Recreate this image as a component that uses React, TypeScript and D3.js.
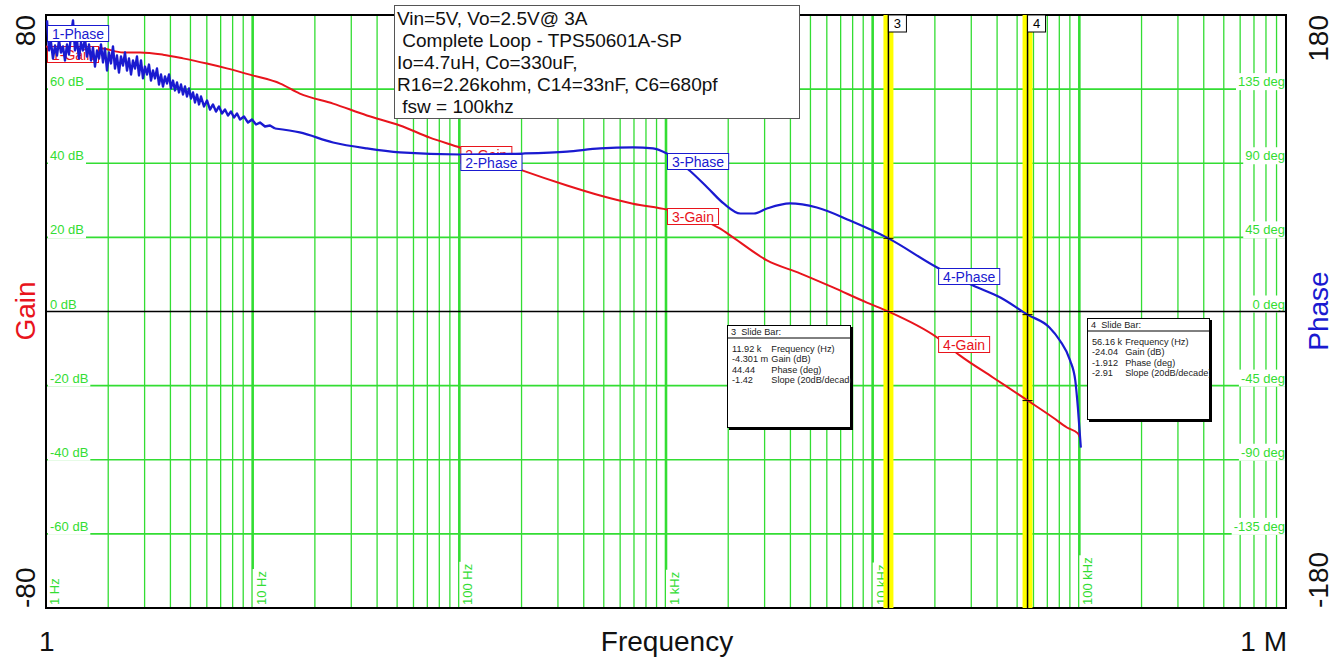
//@ts-nocheck
import React, {useEffect, useRef} from 'react';
import * as d3 from 'd3';

// gain trace (Hz, dB)
const gainFreq = [1, 1.31, 1.83, 2.36, 2.85, 3.68, 4.6, 6.0, 7.5, 10, 13.6, 16.9, 24.5, 35.7, 51.6, 72, 101, 141, 203, 332, 480, 692, 1010, 1380, 1820, 2110, 3080, 4450, 6430, 9380, 11920, 20500, 26500, 38200, 56160, 74500, 87100, 98400, 100700];
const gainDb = [71.5, 70.8, 71.0, 69.9, 69.9, 69.3, 68.3, 66.9, 65.6, 63.7, 61.5, 58.8, 56.1, 52.9, 50.2, 46.9, 44.2, 41.3, 38.0, 34.0, 31.3, 29.1, 27.5, 25.6, 22.4, 20.0, 13.8, 10.3, 6.5, 2.4, 0.0, -7.0, -11.9, -17.8, -24.0, -28.6, -31.3, -32.9, -34.0];

// phase trace (Hz, deg) - noisy below ~13 Hz
const phaseFreq = [
    1.011, 1.034, 1.057, 1.081, 1.106, 1.130, 1.156, 1.182, 1.208, 1.236, 1.264, 1.292, 1.321, 1.351,
    1.381, 1.413, 1.444, 1.477, 1.510, 1.544, 1.579, 1.615, 1.651, 1.688, 1.726, 1.765, 1.805, 1.845,
    1.887, 1.929, 1.973, 2.017, 2.063, 2.109, 2.157, 2.205, 2.255, 2.306, 2.358, 2.411, 2.466, 2.521,
    2.578, 2.636, 2.696, 2.756, 2.818, 2.882, 2.946, 3.013, 3.081, 3.150, 3.221, 3.294, 3.368, 3.444,
    3.522, 3.601, 3.682, 3.765, 3.850, 3.937, 4.026, 4.116, 4.209, 4.304, 4.401, 4.500, 4.602, 4.705,
    4.811, 4.920, 5.031, 5.144, 5.260, 5.378, 5.500, 5.623, 5.814, 6.012, 6.217, 6.427, 6.646, 6.872,
    7.105, 7.347, 7.597, 7.856, 8.123, 8.399, 8.684, 9.078, 9.493, 9.926, 10.38, 10.85, 11.47, 12.13, 12.83,
    16.9, 24.5, 35.7, 51.6, 101, 203, 332, 480, 692, 865, 1010, 1300, 1585, 1900, 2290, 2660, 3080,
    3980, 5370, 7760, 11920, 20500, 30600, 41500, 56160, 71700, 80500, 90200, 95600, 98400, 101700];
const phaseDeg = [
    176.7, 158.5, 163.3, 153.6, 161.5, 155.4, 164.5, 157.2, 160.9, 152.4, 162.1, 156.0, 167.6, 176.7,
    158.5, 164.5, 153.6, 163.3, 158.5, 165.7, 154.8, 162.1, 152.4, 160.3, 148.7, 158.5, 153.6, 162.1,
    151.2, 159.7, 146.3, 157.2, 150.6, 160.9, 147.5, 155.4, 145.1, 154.8, 149.3, 157.2, 146.3, 153.6,
    143.9, 152.4, 147.5, 154.8, 143.3, 152.4, 141.5, 148.7, 143.9, 149.9, 140.2, 146.3, 141.5, 147.5,
    137.8, 143.9, 136.6, 142.7, 138.4, 143.9, 135.4, 140.2, 134.2, 139.0, 133.0, 137.8, 131.7, 136.6,
    130.5, 135.4, 129.3, 133.0, 126.9, 131.7, 125.7, 130.5, 124.5, 128.1, 122.6, 125.7, 121.4, 124.5,
    120.2, 122.6, 119.0, 121.4, 117.8, 120.2, 116.6, 118.4, 114.7, 116.6, 113.5, 114.7, 112.3, 112.9, 111.1,
    108.7, 102.6, 99.0, 96.6, 95.3, 95.9, 97.1, 99.0, 99.6, 99.0, 95.9, 85.6, 75.3, 65.6, 59.5, 59.5, 62.5,
    65.6, 63.1, 55.2, 44.4, 26.7, 15.8, 8.5, -1.9, -9.7, -17.6, -29.7, -41.9, -58.3, -82.6];
const phaseNoiseEnd = 12.83;

const gainTicks = [60, 40, 20, 0, -20, -40, -60];
const phaseTicks = [135, 90, 45, 0, -45, -90, -135];
const decadeFreq = [1, 10, 100, 1e3, 1e4, 1e5];
const decadeLabels = ['1 Hz', '10 Hz', '100 Hz', '1 kHz', '10 kHz', '100 kHz'];
const traceLabelFreq = [1, 100, 1000, 20500];

const infoLines = [
    'Vin=5V, Vo=2.5V@ 3A',
    ' Complete Loop - TPS50601A-SP',
    'Io=4.7uH, Co=330uF,',
    'R16=2.26kohm, C14=33nF, C6=680pf',
    ' fsw = 100khz'
];

const slideBars = [
    {id: '3', freq: 11920, gain: -0.004301, phase: 44.44,
        rows: [['11.92 k', 'Frequency (Hz)'], ['-4.301 m', 'Gain (dB)'], ['44.44', 'Phase (deg)'], ['-1.42', 'Slope (20dB/decade)']]},
    {id: '4', freq: 56160, gain: -24.04, phase: -1.912,
        rows: [['56.16 k', 'Frequency (Hz)'], ['-24.04', 'Gain (dB)'], ['-1.912', 'Phase (deg)'], ['-2.91', 'Slope (20dB/decade)']]}
];
const slideBoxes = [{x: 727, y: 325, w: 124, h: 103}, {x: 1087, y: 318, w: 123, h: 102}];

const App = () => {
    const svgRef = useRef(null);

    useEffect(() => {
        const svg = d3.select(svgRef.current);
        svg.selectAll('*').remove();

        const left = 46, right = 1286, top = 15, bottom = 608;
        const font = 'Liberation Sans, Arial, sans-serif';
        const green = '#33dd33';
        const red = '#e8141c';
        const blue = '#1a1ad0';

        const x = d3.scaleLog().domain([1, 1e6]).range([left, right]);
        const yG = d3.scaleLinear().domain([-80, 80]).range([bottom, top]);
        const yP = d3.scaleLinear().domain([-180, 180]).range([bottom, top]);

        const valAt = (freqs, vals, f) => d3.scaleLinear()
            .domain(freqs.map(Math.log10)).range(vals)(Math.log10(f));

        svg.append('rect').attr('width', 1338).attr('height', 660).attr('fill', '#fff');

        // vertical grid
        const grid = svg.append('g');
        for (let d = 0; d < 6; d++) {
            for (let k = 1; k <= 9; k++) {
                if (d === 0 && k === 1) continue;
                const gx = x(k * Math.pow(10, d));
                grid.append('line')
                    .attr('x1', gx).attr('x2', gx).attr('y1', top).attr('y2', bottom)
                    .attr('stroke', green).attr('stroke-width', k === 1 ? 2.6 : 1.3);
            }
        }
        // horizontal grid
        gainTicks.forEach(t => {
            if (t === 0) return;
            grid.append('line')
                .attr('x1', left).attr('x2', right).attr('y1', yG(t)).attr('y2', yG(t))
                .attr('stroke', green).attr('stroke-width', 1.6);
        });

        const boxedText = (g, txt, tx, ty, anchor) => {
            const t = g.append('text').attr('x', tx).attr('y', ty)
                .attr('text-anchor', anchor).attr('font-family', font)
                .attr('font-size', 13).attr('fill', green).text(txt);
            const bb = t.node().getBBox();
            g.insert('rect', 'text').attr('x', bb.x - 2).attr('y', bb.y - 1)
                .attr('width', bb.width + 4).attr('height', bb.height + 2).attr('fill', '#fff');
        };

        // left dB labels & right deg labels
        gainTicks.forEach((t, i) => {
            const gy = yG(t);
            boxedText(svg.append('g'), t + ' dB', 50, gy - 3, 'start');
            boxedText(svg.append('g'), phaseTicks[i] + ' deg', right - 1, gy - 3, 'end');
        });

        // decade labels at bottom
        decadeFreq.forEach((f, i) => {
            const g = svg.append('g').attr('transform', `translate(${x(f) + 2},${bottom - 3}) rotate(-90)`);
            boxedText(g, decadeLabels[i], 0, 11, 'start');
        });

        // zero line and border
        svg.append('line').attr('x1', left).attr('x2', right).attr('y1', yG(0)).attr('y2', yG(0))
            .attr('stroke', '#000').attr('stroke-width', 1.3);
        svg.append('rect').attr('x', left).attr('y', top).attr('width', right - left).attr('height', bottom - top)
            .attr('fill', 'none').attr('stroke', '#000').attr('stroke-width', 2);

        // slide bars
        slideBars.forEach(b => {
            const bx = x(b.freq);
            svg.append('rect').attr('x', bx - 5).attr('y', top).attr('width', 10).attr('height', bottom - top)
                .attr('fill', '#ffff00');
            svg.append('line').attr('x1', bx).attr('x2', bx).attr('y1', top).attr('y2', bottom)
                .attr('stroke', '#000').attr('stroke-width', 1.5);
        });

        const smooth = d3.line().x(d => x(d[0])).y(d => d[1]).curve(d3.curveMonotoneX);
        const jagged = d3.line().x(d => x(d[0])).y(d => d[1]);

        const traceLabel = (txt, lx, ly, color) => {
            const g = svg.append('g');
            const t = g.append('text').attr('x', lx + 5).attr('y', ly + 13.5)
                .attr('font-family', font).attr('font-size', 14).attr('fill', color).text(txt);
            const w = t.node().getComputedTextLength();
            g.insert('rect', 'text').attr('x', lx + 0.5).attr('y', ly + 0.5).attr('width', w + 9).attr('height', 16)
                .attr('fill', '#fff').attr('stroke', color).attr('stroke-width', 1);
        };

        // gain trace + labels
        svg.append('path')
            .attr('d', smooth(gainFreq.map((f, i) => [f, yG(gainDb[i])])))
            .attr('fill', 'none').attr('stroke', red).attr('stroke-width', 2);
        traceLabelFreq.forEach((f, i) => {
            traceLabel(`${i + 1}-Gain`, x(f) + 1, Math.round(yG(valAt(gainFreq, gainDb, f))) - 1, red);
        });

        // phase trace: jagged noisy low end, smooth remainder
        const phasePts = phaseFreq.map((f, i) => [f, yP(phaseDeg[i])]);
        const noisy = phasePts.filter(p => p[0] <= phaseNoiseEnd);
        const clean = phasePts.filter(p => p[0] >= phaseNoiseEnd);
        svg.append('path').attr('d', jagged(noisy))
            .attr('fill', 'none').attr('stroke', blue).attr('stroke-width', 2.4)
            .attr('stroke-linejoin', 'round');
        svg.append('path').attr('d', smooth(clean))
            .attr('fill', 'none').attr('stroke', blue).attr('stroke-width', 2.2);
        traceLabelFreq.forEach((f, i) => {
            const py = i === 0 ? yP(174) : yP(valAt(phaseFreq, phaseDeg, f));
            traceLabel(`${i + 1}-Phase`, x(f) + 1, Math.round(py), blue);
        });

        // bar markers, bar id boxes, readout boxes
        slideBars.forEach((b, bi) => {
            const bx = x(b.freq);
            [yG(b.gain), yP(b.phase)].forEach(my => {
                svg.append('line').attr('x1', bx - 5).attr('x2', bx + 5).attr('y1', my).attr('y2', my)
                    .attr('stroke', '#000').attr('stroke-width', 1);
            });
            svg.append('rect').attr('x', bx).attr('y', top).attr('width', 18).attr('height', 17)
                .attr('fill', '#fff').attr('stroke', '#000').attr('stroke-width', 1);
            svg.append('text').attr('x', bx + 9).attr('y', top + 13).attr('text-anchor', 'middle')
                .attr('font-family', font).attr('font-size', 13).text(b.id);

            const s = slideBoxes[bi];
            const clipId = 'clip' + b.id;
            svg.append('clipPath').attr('id', clipId).append('rect')
                .attr('x', s.x).attr('y', s.y).attr('width', s.w).attr('height', s.h);
            svg.append('rect').attr('x', s.x + 2).attr('y', s.y + 2).attr('width', s.w).attr('height', s.h)
                .attr('fill', '#000');
            svg.append('rect').attr('x', s.x + 0.5).attr('y', s.y + 0.5).attr('width', s.w - 1).attr('height', s.h - 1)
                .attr('fill', '#fff').attr('stroke', '#000').attr('stroke-width', 1);
            const g = svg.append('g').attr('clip-path', `url(#${clipId})`)
                .attr('font-family', font).attr('font-size', 9.2).attr('fill', '#222');
            g.append('text').attr('x', s.x + 4).attr('y', s.y + 10).style('white-space', 'pre')
                .text(`${b.id}  Slide Bar:`);
            g.append('line').attr('x1', s.x).attr('x2', s.x + s.w).attr('y1', s.y + 13).attr('y2', s.y + 13)
                .attr('stroke', '#000').attr('stroke-width', 1);
            const vals = b.rows.map((r, i) => g.append('text').attr('x', s.x + 5).attr('y', s.y + 27 + i * 10.3).text(r[0]));
            const vw = d3.max(vals, v => v.node().getComputedTextLength());
            b.rows.forEach((r, i) => {
                g.append('text').attr('x', s.x + 5 + vw + 3).attr('y', s.y + 27 + i * 10.3).text(r[1]);
            });
        });

        // info box
        svg.append('rect').attr('x', 394.5).attr('y', 5.5).attr('width', 405).attr('height', 113)
            .attr('fill', '#fff').attr('stroke', '#555').attr('stroke-width', 1);
        infoLines.forEach((l, i) => {
            svg.append('text').attr('x', 397).attr('y', 25 + i * 22).style('white-space', 'pre')
                .attr('font-family', font).attr('font-size', 19).attr('fill', '#111').text(l);
        });

        // axis titles
        const rotText = (txt, tx, ty, anchor, color) => svg.append('text')
            .attr('transform', `translate(${tx},${ty}) rotate(-90)`)
            .attr('text-anchor', anchor).attr('font-family', font).attr('font-size', 28)
            .attr('fill', color).text(txt);
        rotText('80', 35, top, 'end', '#111');
        rotText('-80', 35, bottom, 'start', '#111');
        rotText('Gain', 35, 311, 'middle', red);
        rotText('180', 1328, top, 'end', '#111');
        rotText('-180', 1328, bottom, 'start', '#111');
        rotText('Phase', 1328, 311, 'middle', blue);

        const bt = (txt, tx, anchor) => svg.append('text').attr('x', tx).attr('y', 651)
            .attr('text-anchor', anchor).attr('font-family', font).attr('font-size', 28)
            .attr('fill', '#111').text(txt);
        bt('1', 39, 'start');
        bt('Frequency', 667, 'middle');
        bt('1 M', 1287, 'end');
    }, []);

    return (
        <svg ref={svgRef} width={1338} height={660}
             style={{position: 'absolute', left: 0, top: 0, display: 'block'}}/>
    );
};

export default App;
